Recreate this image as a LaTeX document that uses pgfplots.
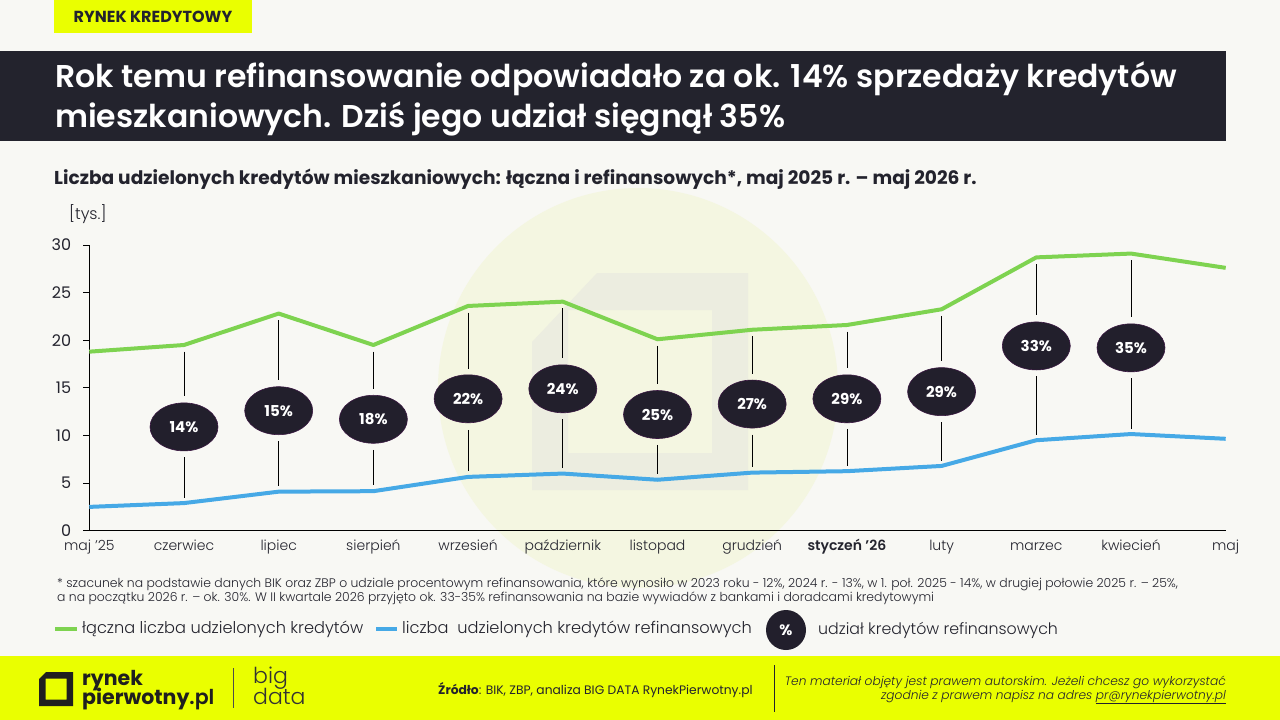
\documentclass[border=0pt]{standalone}
\usepackage{pgfplots}
\pgfplotsset{compat=1.18}
\usepackage{fontspec}
\setmainfont{Poppins}
\newfontfamily\plight{Poppins Light}
\newfontfamily\pmed{Poppins Medium}
\newfontfamily\psemi{Poppins SemiBold}
\usetikzlibrary{shapes.geometric}
\definecolor{bg}{HTML}{F8F8F4}
\definecolor{dark}{HTML}{23232D}
\definecolor{yel}{HTML}{EAFF00}
\definecolor{gr}{HTML}{7ED350}
\definecolor{bl}{HTML}{46A9E6}
\definecolor{bub}{HTML}{221F2C}
\definecolor{pale}{HTML}{F4F6E1}
\definecolor{wm}{HTML}{ECEDE0}
\newcommand\fs[1]{\fontsize{#1}{#1}\selectfont}
\begin{document}
\begin{tikzpicture}[x=1pt,y=-1pt]
\fill[bg] (0,0) rectangle (1280,720);
% watermark
\fill[pale] (638,388) circle (200);
\fill[wm, even odd rule] (597,273) -- (748,273) -- (748,490) -- (532,490) -- (532,342) -- cycle (568,310) rectangle (712,453);
% tag
\fill[yel] (54,0) rectangle (252,33);
\node[font=\bfseries\fs{16}, text=dark] at (153,16.5) {RYNEK KREDYTOWY};
% title
\fill[dark] (0,51) rectangle (1226,141);
\node[anchor=base west, text=white, font=\psemi\fs{31.5}, inner sep=0pt] at (55,87) {Rok temu refinansowanie odpowiadało za ok. 14\% sprzedaży kredytów};
\node[anchor=base west, text=white, font=\psemi\fs{31.5}, inner sep=0pt] at (55,127) {mieszkaniowych. Dziś jego udział sięgnął 35\%};
% subtitle
\node[anchor=base west, text=dark, font=\bfseries\fs{18.6}, inner sep=0pt] at (54,184) {Liczba udzielonych kredytów mieszkaniowych: łączna i refinansowych*, maj 2025 r. – maj 2026 r.};
\node[anchor=base west, text=dark, font=\plight\fs{16}, inner sep=0pt] at (69,219) {[tys.]};

\begin{axis}[at={(89.3pt,-530.7pt)}, anchor=south west, scale only axis,
  width=1136.4pt, height=285.7pt,
  xmin=0, xmax=12, ymin=0, ymax=30, clip=false,
  axis lines*=left, axis line style={black, line width=1pt},
  xtick={0,...,12},
  xticklabels={maj ’25, czerwiec, lipiec, sierpień, wrzesień, październik, listopad, grudzień, \textbf{styczeń ’26}, luty, marzec, kwiecień, maj},
  xtick style={draw=none},
  ytick={0,5,...,30},
  ytick style={black, line width=0.8pt},
  tick align=outside, major tick length=6pt,
  /pgf/number format/assume math mode=true,
  xticklabel style={font=\plight\fs{14}, text=dark, anchor=north, inner sep=0pt, text height=10pt, text depth=3pt, yshift=-4pt},
  yticklabel style={font=\fs{16}, text=dark, inner sep=0pt, xshift=-12pt},
]
\addplot[gr, line width=4pt, line join=round] coordinates {(0,18.8)(1,19.5)(2,22.8)(3,19.5)(4,23.6)(5,24.05)(6,20.1)(7,21.1)(8,21.6)(9,23.25)(10,28.7)(11,29.1)(12,27.6)};
\addplot[bl, line width=4pt, line join=round] coordinates {(0,2.5)(1,2.9)(2,4.1)(3,4.15)(4,5.65)(5,6.0)(6,5.35)(7,6.1)(8,6.25)(9,6.8)(10,9.5)(11,10.15)(12,9.65)};
\addplot[black, line width=0.8pt, unbounded coords=jump] coordinates {
(1,18.8)(1,14.1)(1,nan)(1,7.7)(1,3.45)(1,nan)
(2,22.1)(2,15.8)(2,nan)(2,9.4)(2,4.65)(2,nan)
(3,18.8)(3,14.9)(3,nan)(3,8.5)(3,4.75)(3,nan)
(4,22.9)(4,17.0)(4,nan)(4,10.6)(4,6.25)(4,nan)
(5,23.35)(5,18.1)(5,nan)(5,11.7)(5,6.55)(5,nan)
(6,19.4)(6,15.4)(6,nan)(6,9.0)(6,5.95)(6,nan)
(7,20.4)(7,16.5)(7,nan)(7,10.1)(7,6.65)(7,nan)
(8,20.9)(8,17.1)(8,nan)(8,10.7)(8,6.8)(8,nan)
(9,22.55)(9,17.8)(9,nan)(9,11.4)(9,7.35)(9,nan)
(10,28.0)(10,22.6)(10,nan)(10,16.2)(10,10.05)(10,nan)
(11,28.4)(11,22.4)(11,nan)(11,16.0)(11,10.7)};
\addplot[only marks, mark=none, point meta=explicit symbolic, nodes near coords,
  nodes near coords style={ellipse, fill=bub, draw=bub!75!violet, line width=0.6pt, minimum width=68pt, minimum height=48pt, inner sep=0pt, anchor=center, text=white, font=\bfseries\fs{15}}]
coordinates {(1,10.9)[14\%] (2,12.6)[15\%] (3,11.7)[18\%] (4,13.85)[22\%] (5,14.9)[24\%] (6,12.2)[25\%] (7,13.3)[27\%] (8,13.85)[29\%] (9,14.6)[29\%] (10,19.4)[33\%] (11,19.2)[35\%]};
\end{axis}

% footnote
\node[anchor=base west, text=dark, font=\plight\fs{12.4}, inner sep=0pt] at (57,587) {* szacunek na podstawie danych BIK oraz ZBP o udziale procentowym refinansowania, które wynosiło w 2023 roku - 12\%, 2024 r. - 13\%, w 1. poł. 2025 - 14\%, w drugiej połowie 2025 r. – 25\%,};
\node[anchor=base west, text=dark, font=\plight\fs{12.4}, inner sep=0pt] at (57,601) {a na początku 2026 r. – ok. 30\%. W II kwartale 2026 przyjęto ok. 33-35\% refinansowania na bazie wywiadów z bankami i doradcami kredytowymi};
% legend
\draw[gr, line width=4pt] (55,629) -- (77,629);
\node[anchor=west, text=dark, font=\plight\fs{16.2}, inner sep=0pt] at (82,629) {łączna liczba udzielonych kredytów};
\draw[bl, line width=4pt] (376,629) -- (397,629);
\node[anchor=west, text=dark, font=\plight\fs{16.2}, inner sep=0pt] at (402,629) {liczba\ \ udzielonych kredytów refinansowych};
\node[ellipse, fill=bub, minimum width=40pt, minimum height=40pt, inner sep=0pt, text=white, font=\bfseries\fs{15}] at (786,630) {\%};
\node[anchor=west, text=dark, font=\plight\fs{15.8}, inner sep=0pt] at (818,630) {udział kredytów refinansowych};
% footer
\fill[yel] (0,656) rectangle (1280,720);
\fill[black!88, even odd rule] (46,672) -- (73,672) -- (73,706) -- (39,706) -- (39,679) -- cycle (45.5,678.5) rectangle (66.5,699.5);
\node[anchor=base west, inner sep=0pt, text=black!88, font=\bfseries\fs{20.5}] at (82,685) {rynek};
\node[anchor=base west, inner sep=0pt, text=black!88, font=\bfseries\fs{20.5}] at (82,704) {pierwotny\plight .pl};
\draw[black!70, line width=0.8pt] (233,668) -- (233,708);
\node[anchor=base west, inner sep=0pt, text=black!80, font=\plight\fs{22}] at (253,683) {big};
\node[anchor=base west, inner sep=0pt, text=black!80, font=\plight\fs{22}] at (253,704) {data};
\node[anchor=base west, inner sep=0pt, text=dark, font=\fs{12.3}] at (438,694) {\textbf{Źródło}: BIK, ZBP, analiza BIG DATA RynekPierwotny.pl};
\draw[dark, line width=1pt] (774,665) -- (774,712);
\node[anchor=base east, inner sep=0pt, text=dark, font=\plight\itshape\fs{12.2}] at (1226,685) {Ten materiał objęty jest prawem autorskim. Jeżeli chcesz go wykorzystać};
\node[anchor=base east, inner sep=0pt, text=dark, font=\plight\itshape\fs{12.2}] at (1226,699) {zgodnie z prawem napisz na adres \underline{pr@rynekpierwotny.pl}};
\end{tikzpicture}
\end{document}
